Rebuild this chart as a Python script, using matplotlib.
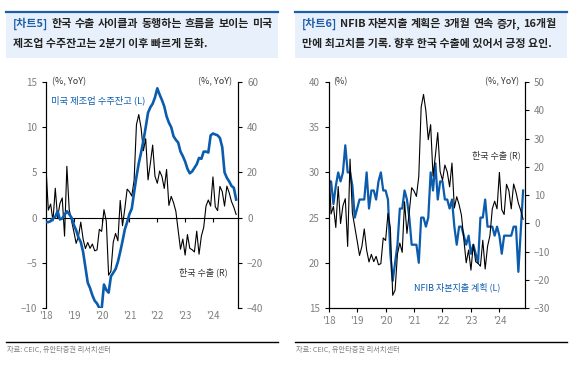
import numpy as np
import matplotlib.pyplot as plt
from matplotlib.patches import Rectangle
from matplotlib.lines import Line2D

plt.rcParams['font.family'] = ['Noto Sans CJK KR', 'DejaVu Sans']

# monthly, Jan 2018 - Nov 2024
kr_exports = [22.2, 3.3, 6.0, -1.5, 13.0, -0.1, 6.2, 8.7, -8.2, 22.7, 3.6, -1.3,
              -6.2, -11.4, -8.2, -2.0, -9.5, -13.7, -11.0, -13.6, -11.7, -14.7, -14.3, -5.2,
              -6.1, 3.5, -1.6, -25.5, -23.7, -10.9, -7.0, -10.3, 7.6, -3.6, 4.1, 12.6,
              11.4, 9.5, 16.6, 41.1, 45.6, 39.7, 29.6, 34.9, 16.7, 24.0, 32.1, 18.3,
              15.2, 20.6, 18.2, 12.9, 21.3, 5.4, 9.4, 6.6, 2.8, -5.7, -14.0, -9.5,
              -16.6, -7.5, -13.6, -14.2, -15.2, -6.0, -16.2, -8.2, -4.4, 5.1, 7.8, 5.1,
              18.0, 4.8, 3.1, 13.8, 11.5, 5.1, 13.9, 11.0, 7.1, 4.6, 1.4]

us_backlog = [-0.5, -0.5, -0.4, -0.1, 0.1, 0.7, -0.2, -0.1, 0.3, 0.7, 0.4, 0.0,
              -0.8, -1.4, -2.2, -2.7, -3.8, -5.5, -7.2, -7.8, -8.6, -9.2, -9.5, -10.0,
              -10.1, -7.4, -8.0, -8.3, -6.5, -6.1, -5.7, -4.9, -3.8, -2.6, -1.3, -0.5,
              0.4, 1.0, 2.8, 4.5, 6.0, 7.2, 8.5, 10.0, 11.6, 12.2, 12.6, 13.3,
              14.3, 13.6, 13.0, 12.3, 11.2, 10.5, 10.0, 9.0, 8.6, 8.3, 7.3, 6.8,
              6.2, 5.4, 4.9, 5.1, 5.5, 5.9, 6.6, 6.5, 7.3, 7.3, 7.2, 9.1,
              9.3, 9.2, 9.1, 8.8, 7.8, 5.0, 4.4, 4.0, 3.5, 3.3, 2.0]

nfib_capex = [29, 29, 26.5, 28.5, 30, 29, 30, 33, 30, 30, 28.5, 25,
              26, 27, 27, 27, 30, 26, 28, 28, 27, 29, 30, 28,
              28, 27, 21, 18, 20, 22, 26, 26, 28, 27, 25, 22,
              22, 22, 20, 25, 25, 24, 25, 30, 28, 31, 27, 29,
              29, 27, 27, 26, 27, 24, 22, 24, 24, 23, 22, 23,
              21, 22, 21, 20, 25, 25, 27, 24, 24, 24, 23, 24,
              23, 21, 23, 23, 23, 23, 24, 24, 19, 23.5, 28]

year_labels = ["'18", "'19", "'20", "'21", "'22", "'23", "'24"]

months = np.arange(len(kr_exports))
year_ticks = np.arange(len(year_labels)) * 12

W, H = 572, 371
fig = plt.figure(figsize=(W / 100, H / 100), dpi=100)
renderer = fig.canvas.get_renderer()

BLUE = '#0b5cad'
TAGBLUE = '#1d5ea8'
GRAY = '#7f7f7f'
DARK = '#222222'
TFS = 7.9


def fx(px):
    return px / W


def fy(py):
    return 1 - py / H


def justified(words, x_left, x_right, y):
    # words: list of (text, colour); spread over x_left..x_right (pixels)
    texts = [fig.text(0, 0, w, color=c, fontsize=TFS, fontweight='bold',
                      va='center', ha='left') for w, c in words]
    widths = [t.get_window_extent(renderer).width for t in texts]
    gap = (x_right - x_left - sum(widths)) / (len(texts) - 1)
    x = x_left
    for t, w in zip(texts, widths):
        t.set_position((fx(x), fy(y)))
        x += w + gap


# title boxes, bottom rules, sources
for x0, x1, tag, line1, line2, right1 in [
        (6, 278, '[차트5]', '한국 수출 사이클과 동행하는 흐름을 보이는 미국',
         '제조업 수주잔고는 2분기 이후 빠르게 둔화.', 272),
        (295, 567, '[차트6]', 'NFIB 자본지출 계획은 3개월 연속 증가, 16개월',
         '만에 최고치를 기록. 향후 한국 수출에 있어서 긍정 요인.', 556)]:
    fig.patches.append(Rectangle((fx(x0), fy(58)), fx(x1 - x0), (58 - 12) / H,
                                 transform=fig.transFigure, facecolor='#e8f1fb',
                                 edgecolor='none', zorder=0))
    fig.lines.append(Line2D([fx(x0), fx(x1)], [fy(12), fy(12)], transform=fig.transFigure,
                            color=TAGBLUE, lw=1.6))
    fig.lines.append(Line2D([fx(x0), fx(x1)], [fy(341.5), fy(341.5)], transform=fig.transFigure,
                            color='black', lw=1.0))
    words = [(tag, TAGBLUE)] + [(w, DARK) for w in line1.split()]
    justified(words, x0 + 7, right1, 24)
    fig.text(fx(x0 + 7), fy(43.5), line2, color=DARK, fontsize=TFS, fontweight='bold',
             va='center', ha='left')
    fig.text(fx(x0 + 1), fy(350), '자료: CEIC, 유안타증권 리서치센터', color=GRAY,
             fontsize=5.2, va='center', ha='left')


def style(ax, ax2):
    for a in (ax, ax2):
        a.spines['top'].set_visible(False)
        a.tick_params(labelsize=7, length=3, width=0.8, colors='black')
        a.tick_params(labelcolor=GRAY)
    ax.set_xlim(0, 82.8)
    ax.set_xticks(year_ticks)
    ax.set_xticklabels(year_labels)
    ax.tick_params(axis='x', pad=2.5)


# ---- chart 5 ----
ax = fig.add_axes([fx(46), fy(308), fx(238 - 46), (308 - 82) / H])
ax2 = ax.twinx()
ax.set_ylim(-10, 15)
ax.set_yticks([-10, -5, 0, 5, 10, 15])
ax2.set_ylim(-40, 60)
ax2.set_yticks([-40, -20, 0, 20, 40, 60])
ax2.plot(months, kr_exports, color='black', lw=0.8)
ax.plot(months, us_backlog, color=BLUE, lw=1.9, zorder=5)
ax.set_zorder(ax2.get_zorder() + 1)
ax.patch.set_visible(False)
style(ax, ax2)
for a in (ax, ax2):
    a.spines['bottom'].set_visible(False)
ax.tick_params(axis='x', length=0)
zero = ax.secondary_xaxis((0 - (-10)) / 25)
zero.set_xticks(year_ticks)
zero.tick_params(axis='x', labelbottom=False, length=3, width=0.8)
zero.spines['bottom'].set_linewidth(0.8)
ax.text(0.03, 1.0, '(%, YoY)', transform=ax.transAxes, fontsize=6.5, color='#333333',
        va='center', ha='left')
ax.text(0.97, 1.0, '(%, YoY)', transform=ax.transAxes, fontsize=6.5, color='#333333',
        va='center', ha='right')
ax.text(0.0245, 0.92, '미국 제조업 수주잔고 (L)', transform=ax.transAxes, fontsize=6.7,
        color=BLUE, va='center', ha='left')
ax.text(0.818, 0.159, '한국 수출 (R)', transform=ax.transAxes, fontsize=6.5,
        color='#333333', va='center', ha='center')

# ---- chart 6 ----
bx = fig.add_axes([fx(328.7), fy(308), fx(525 - 328.7), (308 - 82) / H])
bx2 = bx.twinx()
bx.set_ylim(15, 40)
bx.set_yticks([15, 20, 25, 30, 35, 40])
bx2.set_ylim(-30, 50)
bx2.set_yticks([-30, -20, -10, 0, 10, 20, 30, 40, 50])
bx2.plot(months, kr_exports, color='black', lw=0.8, zorder=6)
bx.plot(months, nfib_capex, color=BLUE, lw=1.6)
style(bx, bx2)
bx.text(0.02, 1.0, '(%)', transform=bx.transAxes, fontsize=6.5, color='#333333',
        va='center', ha='left')
bx.text(0.97, 1.0, '(%, YoY)', transform=bx.transAxes, fontsize=6.5, color='#333333',
        va='center', ha='right')
bx.text(0.852, 0.675, '한국 수출 (R)', transform=bx.transAxes, fontsize=6.5,
        color='#333333', va='center', ha='center')
bx.text(0.654, 0.093, 'NFIB 자본지출 계획 (L)', transform=bx.transAxes, fontsize=6.5,
        color=BLUE, va='center', ha='center')

fig.savefig('out.png', dpi=100)
